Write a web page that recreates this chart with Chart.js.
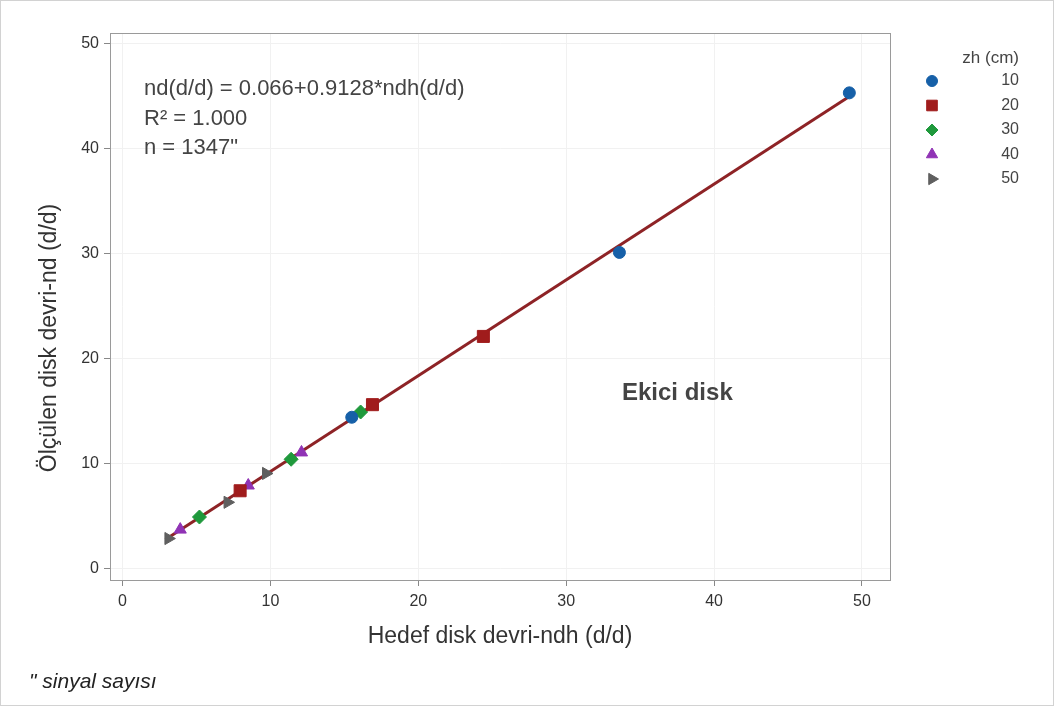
<!DOCTYPE html>
<html>
<head>
<meta charset="utf-8">
<script src="https://cdn.jsdelivr.net/npm/chart.js@4/dist/chart.umd.min.js"></script>
<style>
  html, body { margin: 0; padding: 0; background: #fff; }
  #wrap { width: 1054px; height: 706px; position: relative; }
</style>
</head>
<body>
<div id="wrap"><canvas id="chart" width="1054" height="706"></canvas></div>
<script>
// zh (cm) gruplari
const groups = ['10', '20', '30', '40', '50'];
const colors = ['#1660a8', '#a01c1c', '#1f993c', '#9033b5', '#5f5f5f'];
const styles = ['circle', 'rect', 'rectRot', 'triangle', 'triangle'];
const rotations = [0, 0, 0, 0, 90];

// hedef (ndh) ve olculen (nd) degerleri
const ndh10 = [15.5, 33.6, 49.15];
const nd10 = [14.4, 30.1, 45.3];
const ndh20 = [7.95, 16.9, 24.4];
const nd20 = [7.4, 15.6, 22.1];
const ndh30 = [5.2, 11.4, 16.1];
const nd30 = [4.9, 10.4, 14.9];
const ndh40 = [3.9, 8.5, 12.1];
const nd40 = [3.7, 7.9, 11.05];
const ndh50 = [3.1, 7.1, 9.7];
const nd50 = [2.85, 6.3, 9.05];

// regresyon dogrusu uclari
const fitX = [2.9, 49.2];
const fitY = [2.75, 45.0];

const xTicks = [0, 10, 20, 30, 40, 50];
const yTicks = [0, 10, 20, 30, 40, 50];

const annotationLines = ['nd(d/d) = 0.066+0.9128*ndh(d/d)', 'R\u00b2 = 1.000', 'n = 1347"'];
const labelText = 'Ekici disk';
const footnote = '" sinyal say\u0131s\u0131';
const legendTitle = 'zh (cm)';
const yTitle = '\u00d6l\u00e7\u00fclen disk devri-nd (d/d)';

const xs = [ndh10, ndh20, ndh30, ndh40, ndh50];
const ys = [nd10, nd20, nd30, nd40, nd50];
const radii = [6, 8.5, 7, 7, 7];
const legendRadii = [5.5, 7.5, 6, 6.5, 6.5];

const datasets = groups.map((g, i) => ({
    type: 'scatter',
    label: g,
    data: xs[i].map((x, j) => ({ x: x, y: ys[i][j] })),
    backgroundColor: colors[i],
    borderColor: colors[i],
    borderWidth: 1,
    pointStyle: styles[i],
    rotation: rotations[i],
    pointRadius: radii[i],
    order: 0
}));

datasets.push({
    type: 'line',
    label: 'fit',
    data: fitX.map((x, j) => ({ x: x, y: fitY[j] })),
    borderColor: '#8e2326',
    borderWidth: 3,
    pointRadius: 0,
    fill: false,
    order: 10
});

const FONT = "'Liberation Sans', Arial, sans-serif";

const extras = {
    id: 'extras',
    beforeDraw(chart) {
        const ctx = chart.ctx;
        ctx.save();
        ctx.fillStyle = '#fff';
        ctx.fillRect(0, 0, chart.width, chart.height);
        ctx.restore();
    },
    afterDatasetsDraw(chart) {
        const ctx = chart.ctx;
        const a = chart.chartArea;
        ctx.save();
        // cerceve
        ctx.strokeStyle = '#9a9a9a';
        ctx.lineWidth = 1;
        ctx.strokeRect(Math.round(a.left) + 0.5, Math.round(a.top) + 0.5,
            Math.round(a.right - a.left), Math.round(a.bottom - a.top));

        // y ekseni basligi (biraz asagida ortalanmis)
        ctx.save();
        ctx.translate(50, 338);
        ctx.rotate(-Math.PI / 2);
        ctx.fillStyle = '#333';
        ctx.font = '23px ' + FONT;
        ctx.textAlign = 'center';
        ctx.textBaseline = 'middle';
        ctx.fillText(yTitle, 0, 0);
        ctx.restore();

        // denklem
        ctx.fillStyle = '#444';
        ctx.font = '22px ' + FONT;
        ctx.textBaseline = 'middle';
        ctx.textAlign = 'left';
        annotationLines.forEach((t, i) => ctx.fillText(t, a.left + 34, 89 + i * 29.5));

        ctx.font = 'bold 24px ' + FONT;
        ctx.fillText(labelText, 622, 393);

        // lejant
        ctx.textAlign = 'right';
        ctx.fillStyle = '#444';
        ctx.font = '17px ' + FONT;
        ctx.fillText(legendTitle, 1019, 58);
        ctx.font = '16px ' + FONT;
        groups.forEach((g, i) => {
            const yy = 81 + i * 24.5;
            ctx.fillStyle = colors[i];
            ctx.strokeStyle = colors[i];
            Chart.helpers.drawPoint(ctx, {
                pointStyle: styles[i], rotation: rotations[i], radius: legendRadii[i], borderWidth: 1
            }, 932, yy);
            ctx.fillStyle = '#444';
            ctx.fillText(g, 1019, yy);
        });

        // dipnot
        ctx.textAlign = 'left';
        ctx.fillStyle = '#222';
        ctx.font = 'italic 21px ' + FONT;
        ctx.fillText(footnote, 29, 682);

        // dis cerceve
        ctx.strokeStyle = '#d2d2d2';
        ctx.strokeRect(0.5, 0.5, chart.width - 1, chart.height - 1);
        ctx.restore();
    }
};

new Chart(document.getElementById('chart'), {
    data: { datasets: datasets },
    options: {
        responsive: false,
        animation: false,
        layout: { padding: { left: 25, right: 164, top: 33, bottom: 56 } },
        plugins: { legend: { display: false }, tooltip: { enabled: false } },
        scales: {
            x: {
                type: 'linear',
                min: -0.85,
                max: 51.9,
                afterFit(s) { s.height = 70; },
                afterBuildTicks(s) { s.ticks = xTicks.map(v => ({ value: v })); },
                ticks: { color: '#333', font: { size: 16, family: FONT }, padding: 6, includeBounds: false },
                grid: { color: '#f1f1f1', tickColor: '#888', tickLength: 6 },
                border: { color: '#9a9a9a' },
                title: {
                    display: true, text: 'Hedef disk devri-ndh (d/d)', color: '#333',
                    font: { size: 23, family: FONT }, padding: { top: 4, bottom: 0 }
                }
            },
            y: {
                type: 'linear',
                min: -1.1,
                max: 51.0,
                afterFit(s) { s.width = 85; },
                afterBuildTicks(s) { s.ticks = yTicks.map(v => ({ value: v })); },
                ticks: { color: '#333', font: { size: 16, family: FONT }, padding: 5, includeBounds: false },
                grid: { color: '#f1f1f1', tickColor: '#888', tickLength: 6 },
                border: { color: '#9a9a9a' }
            }
        }
    },
    plugins: [extras]
});
</script>
</body>
</html>
